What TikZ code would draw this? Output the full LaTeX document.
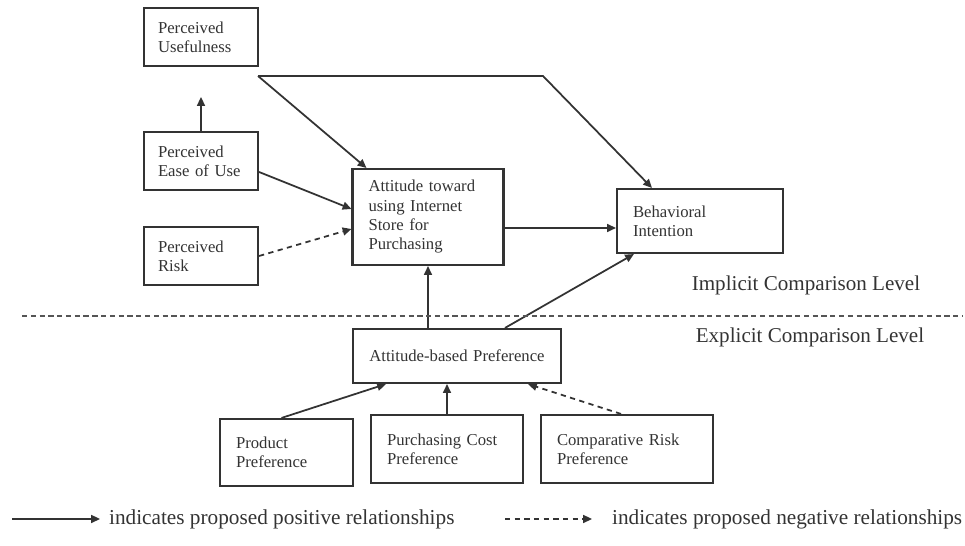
\documentclass[tikz,border=0pt]{standalone}
\usepackage{fontspec}
\setmainfont{Liberation Serif}
\usetikzlibrary{arrows.meta}
\definecolor{ink}{HTML}{333333}
\definecolor{rule}{HTML}{555555}
\tikzset{
  box/.style={draw=ink, line width=1.2pt, align=left, inner xsep=0.32cm, inner ysep=0pt, text=ink, font=\fontsize{9.5}{11}\selectfont},
  plus/.style={draw=ink, line width=1pt, -{Triangle[length=5pt,width=4.5pt]}},
  minus/.style={plus, dash pattern=on 3pt off 2.5pt},
  sep/.style={draw=rule, line width=0.9pt, dash pattern=on 3pt off 2pt},
  lvl/.style={text=ink, font=\fontsize{12}{14}\selectfont},
  leg/.style={text=ink, font=\fontsize{12.1}{14}\selectfont, anchor=west, inner sep=1pt},
}
\begin{document}
\begin{tikzpicture}[x=0.02cm, y=-0.02cm]
  \useasboundingbox (0,0) rectangle (965,546);
  % implicit level
  \node[box, inner xsep=0.28cm, text width=1.72cm, minimum height=1.16cm] (pu) at (201,37) {Perceived\\Usefulness};
  \node[box, inner xsep=0.28cm, text width=1.72cm, minimum height=1.16cm] (peu) at (201,161) {Perceived\\Ease of Use};
  \node[box, inner xsep=0.28cm, text width=1.72cm, minimum height=1.16cm] (pr) at (201,256) {Perceived\\Risk};
  \node[box, text width=2.38cm, minimum height=1.92cm] (att) at (428,217) {Attitude toward\\using Internet\\Store for\\Purchasing};
  \node[box, text width=2.68cm, minimum height=1.28cm] (bi) at (700,221) {Behavioral\\Intention};
  % explicit level
  \node[box, align=center, inner xsep=0.2cm, text width=3.76cm, minimum height=1.08cm] (apref) at (457,356) {Attitude-based Preference};
  \node[box, text width=2.02cm, minimum height=1.34cm] (prod) at (286.5,452.5) {Product\\Preference};
  \node[box, text width=2.40cm, minimum height=1.36cm] (cost) at (447,449) {Purchasing Cost\\Preference};
  \node[box, text width=2.80cm, minimum height=1.36cm] (crisk) at (627,449) {Comparative Risk\\Preference};

  \coordinate (pustub) at (201,97);
  \coordinate (puout) at (258,76);
  \coordinate (bend) at (543,76);
  \coordinate (attout) at ([yshift=-0.22cm]att.east);
  \draw[plus] (peu) -- (pustub);
  \draw[plus] (puout) -- ([xshift=0.3cm]att.north west);
  \draw[plus] (puout) -- (bend) -- ([xshift=0.72cm]bi.north west);
  \draw[plus] ([yshift=-0.22cm]peu.east) -- ([yshift=0.16cm]att.west);
  \draw[minus] (pr.east) -- ([yshift=-0.24cm]att.west);
  \draw[plus] (attout) -- (attout -| bi.west);
  \draw[plus] (att.south |- apref.north) -- (att.south);
  \draw[plus] ([xshift=0.96cm]apref.north) -- ([xshift=0.36cm]bi.south west);
  \draw[plus] ([xshift=-0.1cm]prod.north) -- ([xshift=0.68cm]apref.south west);
  \draw[plus] (cost.north) -- (cost.north |- apref.south);
  \draw[minus] ([xshift=-0.12cm]crisk.north) -- ([xshift=-0.68cm]apref.south east);

  % levels
  \coordinate (sepl) at (22,316);
  \coordinate (sepr) at (963,316);
  \draw[sep] (sepl) -- (sepr);
  \node[lvl] (implicit) at (806,285) {Implicit Comparison Level};
  \node[lvl] (explicit) at (810,337) {Explicit Comparison Level};

  % legend
  \coordinate (legpos) at (12,519);
  \coordinate (legposend) at (100,519);
  \node[leg] (postext) at (107,519) {indicates proposed positive relationships};
  \draw[plus] (legpos) -- (legposend);
  \coordinate (legneg) at (505,519);
  \coordinate (legnegend) at (592,519);
  \node[leg] (negtext) at (610,519) {indicates proposed negative relationships};
  \draw[minus] (legneg) -- (legnegend);
\end{tikzpicture}
\end{document}
